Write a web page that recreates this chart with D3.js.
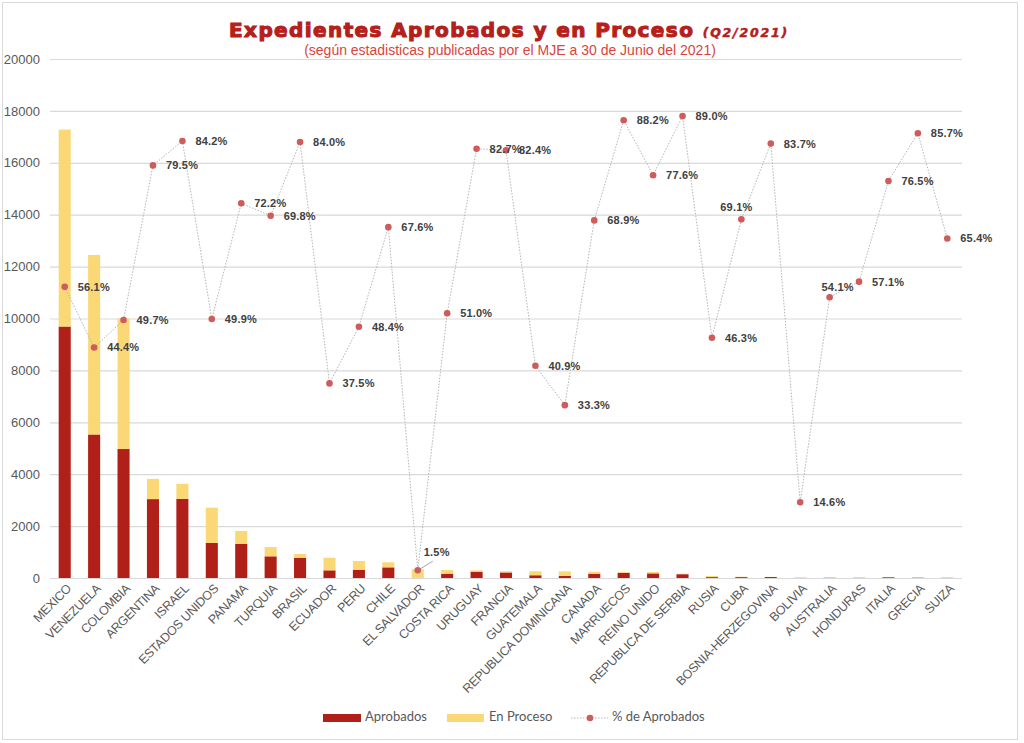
<!DOCTYPE html>
<html><head><meta charset="utf-8">
<script src="https://cdn.jsdelivr.net/npm/d3@7"></script>
<style>
body{margin:0;background:#fff;}
svg{display:block;}
</style></head>
<body>
<svg id="chart" width="1024" height="743"></svg>
<script>
const categories = ["MEXICO","VENEZUELA","COLOMBIA","ARGENTINA","ISRAEL","ESTADOS UNIDOS","PANAMA","TURQUIA","BRASIL","ECUADOR","PERU","CHILE","EL SALVADOR","COSTA RICA","URUGUAY","FRANCIA","GUATEMALA","REPUBLICA DOMINICANA","CANADA","MARRUECOS","REINO UNIDO","REPUBLICA DE SERBIA","RUSIA","CUBA","BOSNIA-HERZEGOVINA","BOLIVIA","AUSTRALIA","HONDURAS","ITALIA","GRECIA","SUIZA"];
const aprobados = [9690,5530,4970,3040,3050,1350,1310,835,775,295,317,410,5,155,244,214,106,85,165,198,178,147,35,35,38,4,10,8,31,12,8];
const enProceso = [7590,6920,5030,780,580,1360,500,360,150,485,338,195,335,150,51,46,154,170,75,27,52,18,40,15,7,21,8,6,9,2,5];
const pctAprobados = [56.1,44.4,49.7,79.5,84.2,49.9,72.2,69.8,84.0,37.5,48.4,67.6,1.5,51.0,82.7,82.4,40.9,33.3,68.9,88.2,77.6,89.0,46.3,69.1,83.7,14.6,54.1,57.1,76.5,85.7,65.4];
const yTicks = [0,2000,4000,6000,8000,10000,12000,14000,16000,18000,20000];

const svg = d3.select("#chart");
const mL = 50, mR = 962, mT = 59, mB = 578;

// outer border
svg.append("rect").attr("x",2.5).attr("y",2.5).attr("width",1015).attr("height",737)
  .attr("fill","none").attr("stroke","#d9d9d9").attr("stroke-width",1);

const x = d3.scaleBand().domain(categories).range([mL,mR]).paddingInner(0.59).paddingOuter(0.295);
const y = d3.scaleLinear().domain([0,20000]).range([mB,mT]);
const y2 = d3.scaleLinear().domain([0,100]).range([mB,mT]);

// gridlines
const yAxis = d3.axisLeft(y).tickValues(yTicks).tickSize(-(mR-mL)).tickFormat(d3.format("d")).tickPadding(10);
const gy = svg.append("g").attr("transform",`translate(${mL},0)`).call(yAxis);
gy.select(".domain").remove();
gy.selectAll(".tick line").attr("stroke","#d9d9d9").attr("stroke-width",1.2);
gy.selectAll(".tick text").attr("fill","#595959").attr("font-family","Liberation Sans, Arial, sans-serif").attr("font-size",13).attr("x",-10);

// bars
const data = categories.map((c,i)=>({c, a:aprobados[i], p:enProceso[i], pct:pctAprobados[i]}));
const stack = d3.stack().keys(["a","p"])(data);
const colors = {a:"#b01f18", p:"#fad876"};
svg.append("g").selectAll("g").data(stack).join("g")
  .attr("fill",d=>colors[d.key])
  .selectAll("rect").data(d=>d).join("rect")
  .attr("x",d=>x(d.data.c)).attr("width",x.bandwidth())
  .attr("y",d=>y(d[1])).attr("height",d=>y(d[0])-y(d[1]));

// x axis line
svg.append("line").attr("x1",mL).attr("x2",mR).attr("y1",mB+0.5).attr("y2",mB+0.5)
  .attr("stroke","#d9d9d9").attr("stroke-width",1.2);

// x labels
const cx = c => x(c)+x.bandwidth()/2;
svg.append("g").selectAll("text").data(categories).join("text")
  .attr("transform",c=>`translate(${cx(c)+5},${mB+9}) rotate(-45)`)
  .attr("text-anchor","end").attr("dominant-baseline","middle")
  .attr("fill","#595959").attr("font-family","Liberation Sans, Arial, sans-serif")
  .attr("font-size",12.5).attr("letter-spacing","-0.3")
  .text(d=>d);

// line
const line = d3.line().x(d=>cx(d.c)).y(d=>y2(d.pct));
svg.append("path").datum(data).attr("d",line).attr("fill","none")
  .attr("stroke","#b5b5b5").attr("stroke-width",1).attr("stroke-dasharray","1.5,1.5");
svg.append("g").selectAll("circle").data(data).join("circle")
  .attr("cx",d=>cx(d.c)).attr("cy",d=>y2(d.pct)).attr("r",3.3).attr("fill","#cd5c5a");

// labels
const special = {
  "CUBA":{dx:-5,dy:-11,anchor:"middle"},
  "AUSTRALIA":{dx:8,dy:-9,anchor:"middle"},
  "EL SALVADOR":{dx:6,dy:-17,anchor:"start"}
};
svg.append("g").selectAll("text").data(data).join("text")
  .attr("x",d=>cx(d.c)+(special[d.c]?special[d.c].dx:13))
  .attr("y",d=>y2(d.pct)+(special[d.c]?special[d.c].dy:1))
  .attr("text-anchor",d=>special[d.c]?special[d.c].anchor:"start")
  .attr("dominant-baseline","middle")
  .attr("fill","#404040").attr("font-family","Liberation Sans, Arial, sans-serif")
  .attr("font-size",11).attr("font-weight","bold").attr("letter-spacing","0.2")
  .text(d=>d.pct.toFixed(1)+"%");
// leader line for El Salvador
const es = data[categories.indexOf("EL SALVADOR")];
svg.append("line").attr("x1",cx(es.c)+2).attr("y1",y2(es.pct)-1).attr("x2",cx(es.c)+15).attr("y2",y2(es.pct)-9)
  .attr("stroke","#8c8c8c").attr("stroke-width",0.8);

// title
const t = svg.append("text").attr("x",509).attr("y",37).attr("text-anchor","middle")
  .attr("font-family","'DejaVu Sans', Verdana, sans-serif").attr("fill","#b5201b");
t.append("tspan").attr("font-size",20).attr("font-weight","bold").attr("stroke","#b5201b").attr("stroke-width",1.1).attr("letter-spacing","1.4").text("Expedientes Aprobados y en Proceso ");
t.append("tspan").attr("font-size",12.5).attr("font-style","italic").attr("font-weight","bold").attr("stroke","#b5201b").attr("stroke-width",0.5).attr("letter-spacing","1.8").text("(Q2/2021)");
svg.append("text").attr("x",510).attr("y",55).attr("text-anchor","middle")
  .attr("font-family","Liberation Sans, Arial, sans-serif").attr("font-size",14).attr("fill","#d9443c")
  .text("(según estadisticas publicadas por el MJE a 30 de Junio del 2021)");

// legend
const lg = svg.append("g").attr("font-family","Lato, 'Open Sans', sans-serif").attr("font-size",13).attr("fill","#595959");
lg.append("rect").attr("x",323).attr("y",714).attr("width",38).attr("height",8).attr("fill",colors.a);
lg.append("text").attr("x",365).attr("y",718).attr("dominant-baseline","middle").text("Aprobados");
lg.append("rect").attr("x",447).attr("y",714).attr("width",37).attr("height",8).attr("fill",colors.p);
lg.append("text").attr("x",489).attr("y",718).attr("dominant-baseline","middle").text("En Proceso");
lg.append("line").attr("x1",571).attr("x2",608).attr("y1",718).attr("y2",718).attr("stroke","#b5b5b5").attr("stroke-dasharray","1.5,1.5");
lg.append("circle").attr("cx",590).attr("cy",718).attr("r",3.3).attr("fill","#cd5c5a");
lg.append("text").attr("x",612).attr("y",718).attr("dominant-baseline","middle").text("% de Aprobados");
</script>
</body></html>
